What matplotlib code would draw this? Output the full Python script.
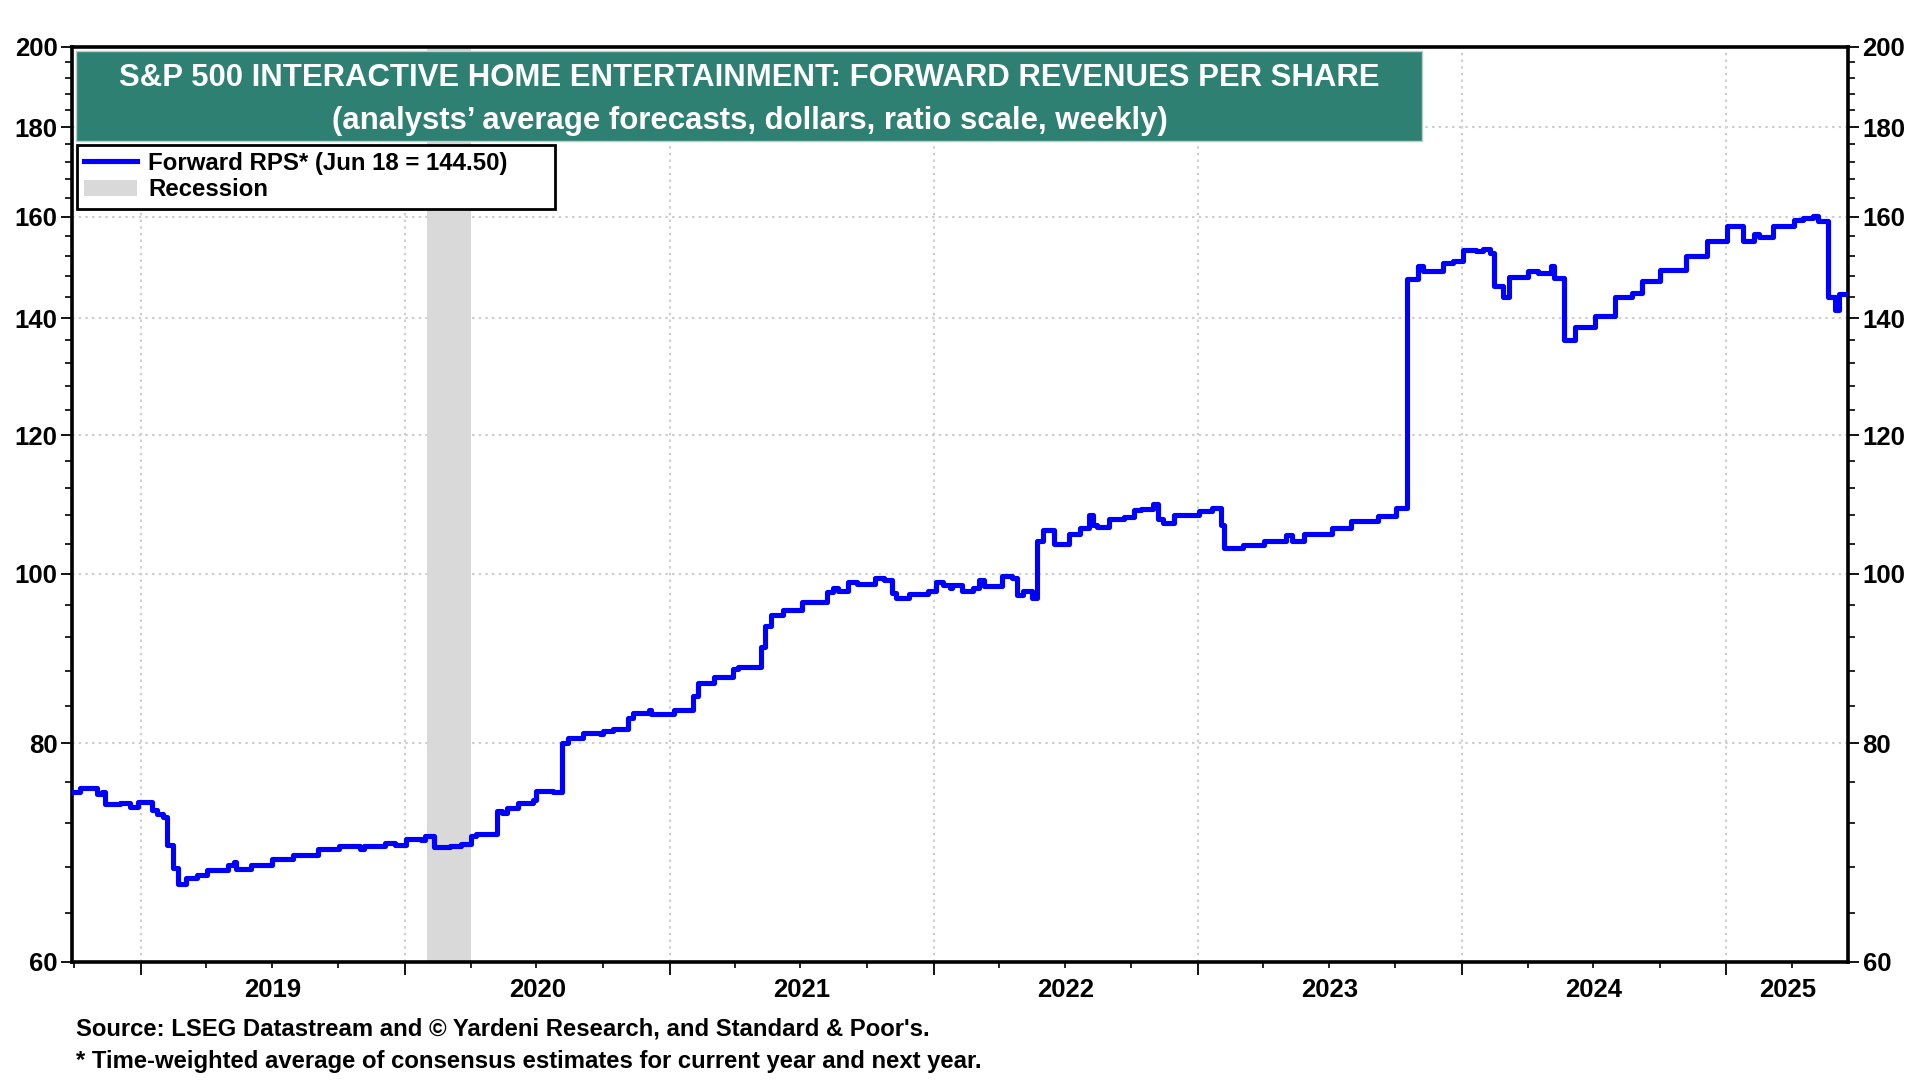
import numpy as np
import pandas as pd
import matplotlib
matplotlib.use('Agg')
import matplotlib.pyplot as plt
import matplotlib.dates as mdates
import matplotlib.transforms as mtransforms
from matplotlib.lines import Line2D
from matplotlib.patches import Patch, Rectangle
from matplotlib.ticker import FixedLocator, FixedFormatter, NullFormatter

plt.rcParams['font.family'] = ['Liberation Sans', 'DejaVu Sans']
plt.rcParams['font.weight'] = 'bold'

# weekly forward RPS, listed only where the step changes
rps_dates = [
    "2018-09-28", "2018-10-09", "2018-11-01", "2018-11-08", "2018-11-13", "2018-12-03",
    "2018-12-17", "2018-12-28", "2019-01-17", "2019-01-23", "2019-02-01", "2019-02-06",
    "2019-02-15", "2019-02-22", "2019-03-05", "2019-03-20", "2019-04-03", "2019-05-02",
    "2019-05-10", "2019-05-13", "2019-06-03", "2019-07-02", "2019-07-31", "2019-09-03",
    "2019-10-02", "2019-10-31", "2019-11-06", "2019-12-05", "2019-12-19", "2020-01-03",
    "2020-01-24", "2020-01-29", "2020-02-11", "2020-03-04", "2020-03-19", "2020-04-01",
    "2020-04-09", "2020-05-07", "2020-05-14", "2020-05-22", "2020-06-05", "2020-06-26",
    "2020-07-01", "2020-07-24", "2020-08-06", "2020-08-13", "2020-09-04", "2020-09-27",
    "2020-10-01", "2020-10-15", "2020-11-05", "2020-11-12", "2020-12-04", "2020-12-07",
    "2020-12-24", "2021-01-07", "2021-02-02", "2021-02-09", "2021-03-04", "2021-03-30",
    "2021-04-05", "2021-05-07", "2021-05-13", "2021-05-21", "2021-06-07", "2021-07-03",
    "2021-08-07", "2021-08-15", "2021-08-22", "2021-09-05", "2021-09-17", "2021-10-12",
    "2021-10-25", "2021-11-04", "2021-11-10", "2021-11-28", "2021-12-24", "2022-01-05",
    "2022-01-14", "2022-01-24", "2022-01-27", "2022-02-09", "2022-02-25", "2022-03-05",
    "2022-03-11", "2022-04-06", "2022-04-19", "2022-04-26", "2022-05-05", "2022-05-17",
    "2022-05-24", "2022-06-01", "2022-06-16", "2022-07-07", "2022-07-22", "2022-08-04",
    "2022-08-09", "2022-08-15", "2022-09-01", "2022-09-21", "2022-10-05", "2022-10-15",
    "2022-10-31", "2022-11-07", "2022-11-14", "2022-11-29", "2023-01-03", "2023-01-21",
    "2023-02-02", "2023-02-06", "2023-03-05", "2023-04-03", "2023-05-03", "2023-05-11",
    "2023-05-28", "2023-07-06", "2023-08-01", "2023-09-07", "2023-10-02", "2023-10-17",
    "2023-11-01", "2023-11-08", "2023-12-06", "2023-12-20", "2024-01-03", "2024-01-21",
    "2024-01-30", "2024-02-09", "2024-02-14", "2024-02-27", "2024-03-07", "2024-04-02",
    "2024-04-16", "2024-05-03", "2024-05-07", "2024-05-22", "2024-06-06", "2024-07-03",
    "2024-07-31", "2024-08-23", "2024-09-06", "2024-10-01", "2024-11-06", "2024-12-05",
    "2025-01-02", "2025-01-24", "2025-02-08", "2025-02-15", "2025-03-07", "2025-04-04",
    "2025-04-17", "2025-05-01", "2025-05-08", "2025-05-21", "2025-05-31", "2025-06-06",
    "2025-06-18",
]
rps_values = [
    75.0, 75.4, 74.8, 75.0, 73.9, 74.0,
    73.6, 74.1, 73.3, 72.9, 72.6, 70.0,
    67.9, 66.5, 67.0, 67.3, 67.7, 68.2,
    68.4, 67.8, 68.2, 68.7, 69.1, 69.6,
    69.9, 69.6, 69.9, 70.2, 70.0, 70.5,
    70.4, 70.8, 69.8, 69.9, 70.1, 70.8,
    71.0, 73.2, 73.0, 73.5, 74.0, 74.3,
    75.1, 75.0, 80.0, 80.6, 81.1, 81.0,
    81.3, 81.5, 82.7, 83.3, 83.6, 83.2,
    83.1, 83.6, 85.1, 86.6, 87.3, 88.2,
    88.4, 90.8, 93.3, 94.7, 95.4, 96.3,
    97.6, 98.2, 97.8, 98.9, 98.6, 99.5,
    99.2, 97.5, 96.8, 97.4, 97.8, 98.9,
    98.5, 98.1, 98.5, 97.8, 98.1, 99.2,
    98.4, 99.7, 99.4, 97.2, 97.8, 96.8,
    104.4, 105.9, 104.0, 105.3, 106.2, 108.0,
    106.6, 106.4, 107.5, 107.7, 108.8, 108.9,
    109.6, 107.5, 106.9, 108.0, 108.6, 109.1,
    106.6, 103.4, 103.8, 104.4, 105.2, 104.4,
    105.4, 106.2, 107.2, 107.9, 109.0, 147.4,
    149.9, 148.9, 150.6, 151.0, 153.1, 152.9,
    153.3, 152.6, 146.0, 143.9, 147.7, 148.9,
    148.5, 149.9, 147.6, 136.0, 138.3, 140.3,
    144.0, 144.6, 147.0, 149.2, 152.0, 155.0,
    158.0, 154.9, 156.3, 155.7, 158.0, 159.2,
    159.6, 160.1, 159.0, 144.0, 141.4, 144.5,
    144.5,
]

recession_start = "2020-02-01"
recession_end = "2020-04-01"

y_major = [60, 80, 100, 120, 140, 160, 180, 200]
y_minor = [v for v in range(64, 200, 4) if v % 20 != 0]
year_labels = [2019, 2020, 2021, 2022, 2023, 2024, 2025]

title_1 = "S&P 500 INTERACTIVE HOME ENTERTAINMENT: FORWARD REVENUES PER SHARE"
title_2 = "(analysts\u2019 average forecasts, dollars, ratio scale, weekly)"
legend_labels = ["Forward RPS* (Jun 18 = 144.50)", "Recession"]
note_1 = "Source: LSEG Datastream and \u00a9 Yardeni Research, and Standard & Poor's."
note_2 = "* Time-weighted average of consensus estimates for current year and next year."

blue = '#0000FF'
grey = '#D9D9D9'
teal = '#2E8073'

x = pd.to_datetime(rps_dates)

fig = plt.figure(figsize=(19.2, 10.8), dpi=100)
ax = fig.add_axes([0.0375, 0.1093, 0.925, 0.8472])

ax.axvspan(pd.Timestamp(recession_start), pd.Timestamp(recession_end),
           color=grey, lw=0, zorder=1)
ax.plot(x, rps_values, color=blue, lw=3.7, drawstyle='steps-post', zorder=3)

ax.set_yscale('log')
ax.set_ylim(60, 200)
ax.set_xlim(x[0], x[-1])

ax.yaxis.set_major_locator(FixedLocator(y_major))
ax.yaxis.set_major_formatter(FixedFormatter([str(v) for v in y_major]))
ax.yaxis.set_minor_locator(FixedLocator(y_minor))
ax.yaxis.set_minor_formatter(NullFormatter())
ax.xaxis.set_major_locator(mdates.YearLocator())
ax.xaxis.set_major_formatter(NullFormatter())
ax.xaxis.set_minor_locator(mdates.MonthLocator(bymonth=[1, 4, 7, 10]))
ax.xaxis.set_minor_formatter(NullFormatter())

ax.grid(which='major', axis='both', color='#CFCFCF', ls=(0, (1.2, 2.0)), lw=1.5, zorder=0)
ax.set_axisbelow(True)

ax.tick_params(axis='y', which='major', direction='out', length=8, width=1.3,
               labelsize=18.5, left=True, right=True, labelleft=True, labelright=True, pad=2.5)
ax.tick_params(axis='y', which='minor', direction='out', length=5, width=1.2,
               left=True, right=True)
ax.tick_params(axis='x', which='major', direction='out', length=9, width=1.3)
ax.tick_params(axis='x', which='minor', direction='out', length=4, width=1.2)
for s in ax.spines.values():
    s.set_linewidth(2.6)

# year labels centred in each (visible) year
trans = mtransforms.blended_transform_factory(ax.transData, ax.transAxes)
x0, x1 = x[0], x[-1]
for yr in year_labels:
    left = max(pd.Timestamp(yr, 1, 1), x0)
    right = min(pd.Timestamp(yr + 1, 1, 1), x1)
    mid = left + (right - left) / 2
    ax.text(mid, -0.0305, str(yr), transform=trans, ha='center', va='center',
            fontsize=18.5, fontweight='bold')

# title box
ax.add_patch(Rectangle((0.00225, 0.8973), 0.7578, 0.0983, transform=ax.transAxes,
                       facecolor=teal, edgecolor='#B5CFCA', lw=1, zorder=5))
ax.text(0.3815, 0.9665, title_1, transform=ax.transAxes, ha='center', va='center',
        color='white', fontsize=22.4, fontweight='bold', zorder=6)
ax.text(0.3815, 0.9195, title_2, transform=ax.transAxes, ha='center', va='center',
        color='white', fontsize=22.4, fontweight='bold', zorder=6)

handles = [Line2D([], [], color=blue, lw=3.7), Patch(facecolor=grey, edgecolor='none')]
leg = ax.legend(handles, legend_labels, loc='upper left',
                bbox_to_anchor=(0.0028, 0.824, 0.2692, 0.0694), bbox_transform=ax.transAxes,
                mode='expand', borderaxespad=0, fancybox=False, edgecolor='black',
                framealpha=1, handlelength=2.2, handletextpad=0.47, labelspacing=0.15,
                borderpad=0.3, prop={'size': 17.3, 'weight': 'bold'})
leg.get_frame().set_linewidth(2)
leg.set_zorder(6)

fig.text(0.0396, 0.0475, note_1, fontsize=17.2, fontweight='bold', va='center')
fig.text(0.0396, 0.0170, note_2, fontsize=17.2, fontweight='bold', va='center')

fig.savefig('out.png', dpi=100)
